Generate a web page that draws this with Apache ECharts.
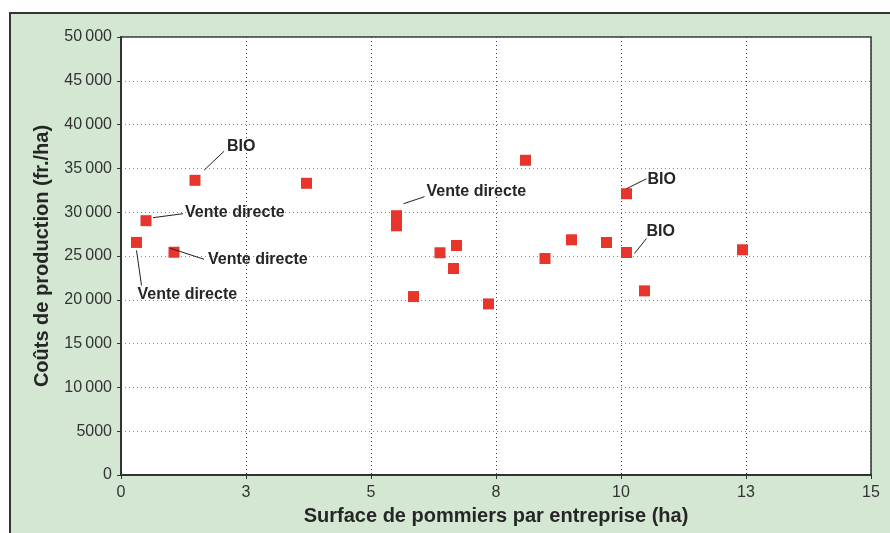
<!DOCTYPE html>
<html>
<head>
<meta charset="utf-8">
<script src="https://cdn.jsdelivr.net/npm/echarts@6/dist/echarts.min.js"></script>
<style>
html,body{margin:0;padding:0;background:#fff;}
#chart{width:890px;height:533px;}
</style>
</head>
<body>
<div id="chart"></div>
<script>
// Data
const surfaces = [0.31, 0.50, 1.06, 1.48, 3.71, 5.51, 5.51, 5.85, 6.38, 6.65, 6.71, 7.35, 8.09, 8.48, 9.01, 9.71, 10.11, 10.11, 10.47, 12.43];
const couts    = [26550, 29030, 25430, 33640, 33300, 29600, 28450, 20370, 25370, 23570, 26200, 19530, 35930, 24710, 26850, 26540, 32110, 25400, 21020, 25710];
const annotationPoints = [3, 1, 2, 0, 5, 16, 17];
const annotationTexts  = ['BIO', 'Vente directe', 'Vente directe', 'Vente directe', 'Vente directe', 'BIO', 'BIO'];
const xTitle = 'Surface de pommiers par entreprise (ha)';
const yTitle = 'Coûts de production (fr./ha)';

// Layout of annotation text/leader relative to point (px): [lx1, ly1, lx2, ly2, tx, ty]
const annoLayout = [
  [9, -10, 29, -29, 32, -34],
  [7, -3, 37, -7, 39, -8],
  [-4, -4, 30, 7, 34, 7],
  [0, 8, 5, 43, 1, 52],
  [7, -12, 28, -19, 30, -24],
  [0, -5, 20, -15, 21, -14],
  [8, 1, 20, -14, 20, -21]
];

const FONT = '"Liberation Sans", Arial, Helvetica, sans-serif';
const chart = echarts.init(document.getElementById('chart'), null, {renderer: 'canvas'});

function fmtY(v) {
  if (v >= 10000) {
    const s = String(v);
    return s.slice(0, s.length - 3) + '\u2009' + s.slice(s.length - 3);
  }
  return String(v);
}

const bg = {
  id: 'bg', type: 'rect', z: -10, silent: true,
  shape: {x: 10, y: 13, width: 900, height: 540},
  style: {fill: '#d3e7d3', stroke: '#333', lineWidth: 2}
};

chart.setOption({
  animation: false,
  graphic: [bg],
  grid: {
    left: 121, top: 37, right: 19, bottom: 58,
    show: true, backgroundColor: '#fff', borderColor: '#333', borderWidth: 1.5
  },
  xAxis: {
    type: 'value', min: 0, max: 15, interval: 2.5,
    name: xTitle, nameLocation: 'middle', nameGap: 31,
    nameTextStyle: {fontFamily: FONT, fontSize: 20, fontWeight: 'bold', color: '#262626'},
    axisLine: {show: true, lineStyle: {color: '#333', width: 2}},
    axisTick: {show: true, length: 4, lineStyle: {color: '#333'}},
    axisLabel: {fontFamily: FONT, fontSize: 16, color: '#333', margin: 10,
      formatter: v => String(Math.round(v))},
    splitLine: {show: true, lineStyle: {color: '#444', type: [1, 3], width: 1}}
  },
  yAxis: {
    type: 'value', min: 0, max: 50000, interval: 5000,
    name: yTitle, nameLocation: 'middle', nameGap: 69,
    nameTextStyle: {fontFamily: FONT, fontSize: 20, fontWeight: 'bold', color: '#262626'},
    axisLine: {show: true, lineStyle: {color: '#333', width: 2}},
    axisTick: {show: true, length: 4, lineStyle: {color: '#333'}},
    axisLabel: {fontFamily: FONT, fontSize: 16, color: '#333', margin: 9, formatter: fmtY},
    splitLine: {show: true, lineStyle: {color: '#888', type: [1, 3], width: 1}}
  },
  series: [{
    type: 'scatter',
    symbol: 'rect',
    symbolSize: 11,
    itemStyle: {color: '#e8352b', opacity: 1},
    data: surfaces.map((x, i) => [x, couts[i]]),
    z: 5
  }]
});

const graphics = [bg];
annotationPoints.forEach((idx, k) => {
  const p = chart.convertToPixel({gridIndex: 0}, [surfaces[idx], couts[idx]]);
  const L = annoLayout[k];
  graphics.push({
    type: 'line', z: 10, silent: true,
    shape: {x1: p[0] + L[0], y1: p[1] + L[1], x2: p[0] + L[2], y2: p[1] + L[3]},
    style: {stroke: '#222', lineWidth: 1}
  });
  graphics.push({
    type: 'text', z: 10, silent: true,
    x: p[0] + L[4], y: p[1] + L[5],
    style: {text: annotationTexts[k], font: 'bold 16px ' + FONT, fill: '#262626',
      textAlign: 'left', textVerticalAlign: 'middle'}
  });
});
chart.setOption({graphic: graphics}, {replaceMerge: ['graphic']});
</script>
</body>
</html>
